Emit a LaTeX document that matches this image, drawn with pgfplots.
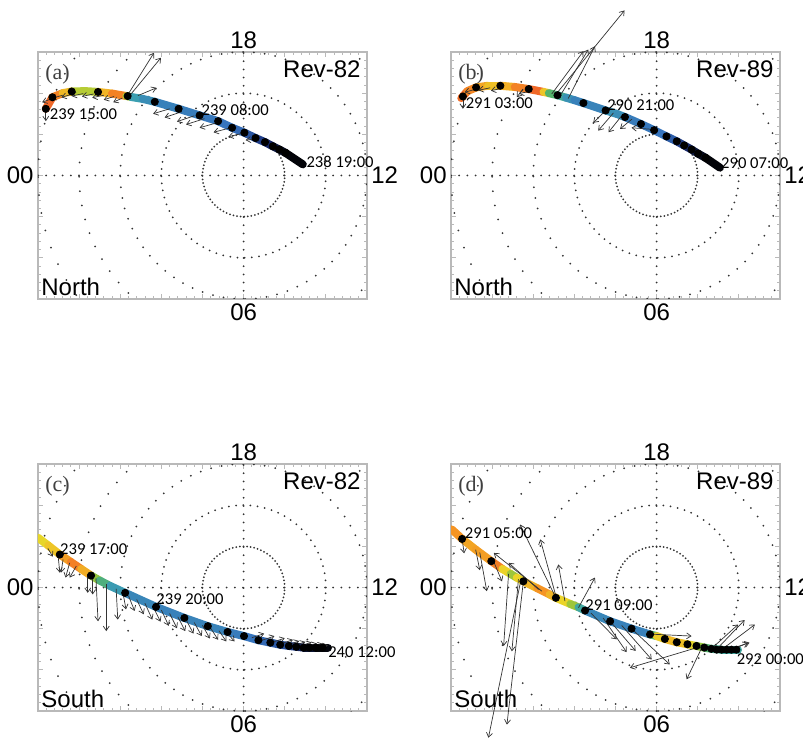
\documentclass[border=0pt]{standalone}
\usepackage{fontspec}
\setmainfont{Liberation Sans}
\newfontfamily\carlito{Carlito}
\newfontfamily\tms{Liberation Serif}
\usepackage{pgfplots}
\pgfplotsset{compat=1.18}
\usetikzlibrary{arrows.meta}

\pgfplotsset{
  colormap={idl}{rgb255=(0,0,0) rgb255=(25,45,120) rgb255=(55,115,190) rgb255=(60,165,175) rgb255=(95,185,75) rgb255=(235,215,40) rgb255=(245,145,35) rgb255=(235,70,45)},
  panel/.style={scale only axis,width=164.5pt,height=123.5pt,xmin=-5,xmax=3,ymin=-3,ymax=3,anchor=south west},
  box/.style={panel,xtick={-5,...,3},ytick={-3,...,3},minor tick num=4,
    xticklabels={},yticklabels={},tick align=inside,
    major tick length=2.4pt,minor tick length=1.4pt,
    axis line style={gray!55,line width=0.6pt},tick style={gray!55,line width=0.4pt},
    colormap name=idl,point meta min=0,point meta max=1},
  over/.style={panel,hide axis,clip=false},
  track/.style={mesh,point meta=explicit,line width=4pt,line cap=round},
  wind/.style={quiver={u=\thisrow{u},v=\thisrow{v}},-{Straight Barb[length=2.2pt,width=3pt]},gray!40!black,line width=0.35pt},
  dots/.style={only marks,mark=*,mark size=1.8pt,black},
}
\tikzset{
  ring/.style={black!80,line width=1pt,line cap=round,dash pattern=on 0pt off #1},
  stamp/.style={font=\carlito\fontsize{8.3}{9}\selectfont,anchor=west,inner sep=0pt},
  big/.style={font=\fontsize{12}{14}\selectfont,inner sep=0pt},
}
\newcommand{\polargrid}{%
  \draw[ring=1.8pt] (axis cs:0,0) circle[radius=1];
  \draw[ring=3.6pt] (axis cs:0,0) circle[radius=2];
  \draw[ring=5.4pt] (axis cs:0,0) circle[radius=3];
  \draw[ring=7.2pt] (axis cs:0,0) circle[radius=4];
  \draw[ring=9pt] (axis cs:0,0) circle[radius=5];
  \draw[ring=4.1pt] (axis cs:-5,0) -- (axis cs:3,0);
  \draw[ring=4.1pt] (axis cs:0,-3) -- (axis cs:0,3);
}
\newcommand{\decor}[3]{%
  \node[big,anchor=south,yshift=1.5pt] at (axis cs:0,3) {18};
  \node[big,anchor=north,yshift=-2pt] at (axis cs:0,-3) {06};
  \node[big,anchor=east,xshift=-2pt] at (axis cs:-5,0) {00};
  \node[big,anchor=west,xshift=2pt] at (axis cs:3,0) {12};
  \node[font=\tms\fontsize{11}{12}\selectfont,text=black!75,anchor=west,inner sep=0pt,xshift=3.5pt,yshift=-11pt] at (rel axis cs:0,1) {#1};
  \node[big,anchor=north east,xshift=-3pt,yshift=-4pt] at (rel axis cs:1,1) {#2};
  \node[big,anchor=base west,xshift=1.5pt,yshift=1.6pt] at (rel axis cs:0,0) {#3};
}

\begin{document}
\begin{tikzpicture}
\path[use as bounding box] (0,0) rectangle (401.5pt,369.5pt);

% (a) north, Rev-82
\begin{axis}[box,at={(19pt,220pt)}]
\polargrid
\addplot[track] table[meta=c] {
x y c
-4.81 1.62 0.95
-4.65 1.90 0.92
-4.40 2.00 0.85
-4.18 2.04 0.70
-3.85 2.05 0.62
-3.54 2.03 0.70
-3.20 1.99 0.87
-2.85 1.93 0.90
-2.75 1.91 0.42
-2.45 1.86 0.40
-2.16 1.79 0.32
-1.58 1.62 0.33
-1.07 1.46 0.30
-0.62 1.32 0.30
-0.28 1.16 0.28
0.02 1.04 0.25
0.29 0.91 0.20
0.52 0.81 0.15
0.71 0.71 0.10
0.87 0.63 0.05
1.02 0.55 0.02
1.44 0.27 0.00
};
\end{axis}
\begin{axis}[over,at={(19pt,220pt)}]
\addplot[wind] table {
x y u v
-2.81 1.97 0.63 1.01
-2.77 1.94 0.76 0.92
-2.57 1.94 0.45 0.19
-4.81 1.62 0.00 -0.30
-4.62 1.88 -0.28 -0.10
-4.40 1.95 -0.28 -0.08
-4.15 1.98 -0.28 -0.08
-3.90 1.99 -0.28 -0.06
-3.65 1.98 -0.28 -0.06
-3.40 1.95 -0.28 -0.06
-3.15 1.92 -0.25 -0.08
-2.95 1.88 -0.22 -0.10
-1.80 1.62 -0.40 -0.12
-1.50 1.55 -0.42 -0.14
-1.20 1.45 -0.42 -0.14
-0.95 1.38 -0.45 -0.14
-0.65 1.28 -0.42 -0.12
-0.35 1.15 -0.38 -0.10
-0.05 1.02 -0.32 -0.08
0.25 0.88 -0.20 -0.02
};
\addplot[dots] table {
x y
-4.81 1.62
-4.65 1.90
-4.18 2.04
-3.54 2.03
-2.82 1.93
-2.16 1.79
-1.58 1.62
-1.07 1.46
-0.62 1.32
-0.28 1.16
0.02 1.04
0.29 0.91
0.52 0.81
0.71 0.71
0.87 0.63
1.02 0.55
};
\node[stamp] at (axis cs:-4.72,1.50) {239 15:00};
\node[stamp] at (axis cs:-1.03,1.60) {239 08:00};
\node[stamp] at (axis cs:1.52,0.32) {238 19:00};
\decor{(a)}{Rev-82}{North}
\end{axis}

% (b) north, Rev-89
\begin{axis}[box,at={(225.5pt,220pt)}]
\polargrid
\addplot[track] table[meta=c] {
x y c
-4.75 1.88 0.95
-4.60 2.05 0.90
-4.39 2.14 0.85
-4.10 2.18 0.78
-3.80 2.18 0.74
-3.45 2.15 0.85
-3.11 2.10 0.92
-2.75 2.03 0.95
-2.62 2.00 0.55
-2.41 1.95 0.50
-2.20 1.89 0.42
-2.00 1.83 0.33
-1.78 1.76 0.32
-1.24 1.58 0.34
-0.95 1.49 0.40
-0.77 1.42 0.32
-0.38 1.25 0.30
-0.06 1.10 0.30
0.24 0.95 0.28
0.49 0.83 0.20
0.67 0.73 0.15
0.85 0.63 0.10
1.01 0.53 0.05
1.19 0.43 0.02
1.54 0.19 0.00
};
\end{axis}
\begin{axis}[over,at={(225.5pt,220pt)}]
\addplot[wind] table {
x y u v
-2.45 1.97 1.67 2.04
-2.55 1.98 0.77 1.04
-2.35 1.93 0.69 1.13
-2.15 1.87 0.65 1.27
-4.71 1.92 0.00 -0.30
-4.39 2.10 -0.28 -0.08
-4.05 2.13 -0.28 -0.06
-3.75 2.12 -0.28 -0.06
-3.25 2.10 -0.15 -0.20
-3.10 2.04 -0.25 -0.05
-1.24 1.58 -0.30 -0.30
-1.05 1.52 -0.37 -0.43
-0.85 1.45 -0.32 -0.40
-0.60 1.37 -0.29 -0.24
-0.10 1.12 -0.51 0.04
};
\addplot[dots] table {
x y
-4.71 1.92
-4.39 2.14
-3.80 2.18
-3.11 2.10
-2.41 1.95
-1.78 1.76
-1.24 1.58
-0.77 1.42
-0.38 1.25
-0.06 1.10
0.24 0.95
0.49 0.83
0.67 0.73
0.85 0.63
1.01 0.53
1.19 0.43
};
\node[stamp] at (axis cs:-4.65,1.76) {291 03:00};
\node[stamp] at (axis cs:-1.21,1.70) {290 21:00};
\node[stamp] at (axis cs:1.56,0.31) {290 07:00};
\decor{(b)}{Rev-89}{North}
\end{axis}

% (c) south, Rev-82
\begin{axis}[box,at={(19pt,14pt)}]
\polargrid
\addplot[track] table[meta=c] {
x y c
-5.00 1.21 0.70
-4.75 1.02 0.72
-4.47 0.80 0.78
-4.20 0.62 0.88
-3.95 0.45 0.90
-3.71 0.29 0.70
-3.50 0.17 0.55
-3.25 0.04 0.45
-2.88 -0.13 0.35
-2.13 -0.47 0.33
-1.44 -0.74 0.32
-0.87 -0.94 0.34
-0.39 -1.08 0.32
0.01 -1.18 0.30
0.36 -1.28 0.28
0.65 -1.34 0.25
0.89 -1.39 0.22
1.10 -1.42 0.20
1.28 -1.44 0.15
1.46 -1.46 0.08
1.76 -1.46 0.03
2.05 -1.46 0.00
};
\end{axis}
\begin{axis}[over,at={(19pt,14pt)}]
\addplot[wind] table {
x y u v
-4.76 0.95 0.12 -0.20
-4.51 0.76 0.04 -0.40
-4.39 0.68 -0.05 -0.32
-4.23 0.60 -0.10 -0.36
-4.07 0.52 -0.16 -0.28
-3.79 0.33 0.00 -0.46
-3.67 0.27 0.00 -0.44
-3.59 0.22 0.05 -1.04
-3.34 0.09 0.00 -1.15
-3.10 -0.03 0.04 -0.75
-2.94 -0.10 0.08 -0.43
-2.80 -0.20 0.15 -0.37
-2.60 -0.29 0.17 -0.36
-2.40 -0.38 0.18 -0.40
-2.20 -0.47 0.18 -0.36
-2.00 -0.55 0.18 -0.38
-1.80 -0.63 0.18 -0.36
-1.60 -0.71 0.18 -0.35
-1.40 -0.78 0.18 -0.34
-1.20 -0.85 0.18 -0.33
-1.00 -0.92 0.18 -0.32
-0.80 -0.99 0.18 -0.28
-0.60 -1.05 0.18 -0.26
-0.40 -1.11 0.18 -0.20
0.20 -1.22 0.30 0.10
0.45 -1.28 0.30 0.10
0.70 -1.33 0.30 0.10
0.90 -1.37 0.30 0.10
1.05 -1.40 0.30 0.10
1.20 -1.42 0.30 0.10
1.35 -1.43 0.30 0.10
1.50 -1.44 0.28 0.08
1.65 -1.45 0.28 0.08
1.80 -1.45 0.25 0.05
};
\addplot[dots] table {
x y
-4.47 0.80
-3.71 0.29
-2.88 -0.13
-2.13 -0.47
-1.44 -0.74
-0.87 -0.94
-0.39 -1.08
0.01 -1.18
0.36 -1.28
0.65 -1.34
0.89 -1.39
1.10 -1.42
1.28 -1.44
1.46 -1.46
1.60 -1.46
1.76 -1.46
1.92 -1.46
};
\node[stamp] at (axis cs:-4.47,0.92) {239 17:00};
\node[stamp] at (axis cs:-2.13,-0.29) {239 20:00};
\node[stamp] at (axis cs:2.05,-1.57) {240 12:00};
\decor{(c)}{Rev-82}{South}
\end{axis}

% (d) south, Rev-89
\begin{axis}[box,at={(225.5pt,14pt)}]
\polargrid
\addplot[track] table[meta=c] {
x y c
-4.98 1.41 0.85
-4.73 1.18 0.85
-4.40 0.92 0.78
-4.02 0.64 0.88
-3.75 0.45 0.90
-3.55 0.33 0.55
-3.40 0.24 0.72
-3.24 0.15 0.72
-2.90 -0.02 0.85
-2.60 -0.17 0.85
-2.45 -0.25 0.72
-2.10 -0.40 0.72
-1.90 -0.48 0.55
-1.74 -0.56 0.35
-1.13 -0.82 0.33
-0.61 -1.00 0.32
-0.16 -1.14 0.33
0.00 -1.18 0.72
0.20 -1.25 0.75
0.49 -1.33 0.80
0.75 -1.38 0.72
0.97 -1.42 0.70
1.16 -1.46 0.55
1.33 -1.49 0.50
1.58 -1.51 0.45
1.98 -1.51 0.45
};
\end{axis}
\begin{axis}[over,at={(225.5pt,14pt)}]
\addplot[wind] table {
x y u v
-4.73 1.18 0.05 -0.35
-4.40 0.92 0.10 -0.50
-4.30 0.85 0.17 -0.94
-3.95 0.60 0.19 -0.45
-3.60 0.33 -0.12 -1.75
-3.36 0.20 -0.16 -1.75
-3.24 0.15 -0.40 -3.48
-3.30 0.18 -0.79 -3.83
-2.79 -0.09 -1.17 0.93
-2.87 -0.05 -0.73 0.65
-2.47 -0.21 -0.85 1.74
-2.44 -0.24 -0.39 1.41
-2.23 -0.33 -0.16 0.89
-1.90 -0.49 0.40 0.73
-1.60 -0.62 0.63 -0.64
-1.30 -0.74 0.57 -0.83
-1.13 -0.82 0.62 -0.72
-0.85 -0.92 0.73 -0.83
-0.61 -1.00 0.93 -0.87
1.05 -1.44 -1.70 -0.51
1.09 -1.48 -0.36 -0.75
-0.20 -1.13 1.05 -0.05
1.33 -1.49 0.65 0.59
1.46 -1.50 0.68 0.71
1.58 -1.51 0.81 0.61
1.74 -1.51 0.52 0.17
1.85 -1.51 0.37 0.17
};
\addplot[dots] table {
x y
-4.73 1.18
-4.02 0.64
-3.24 0.15
-2.45 -0.25
-1.74 -0.56
-1.13 -0.82
-0.61 -1.00
-0.16 -1.14
0.20 -1.25
0.49 -1.33
0.75 -1.38
0.97 -1.42
1.16 -1.46
1.33 -1.49
1.46 -1.51
1.58 -1.51
1.70 -1.51
1.82 -1.51
1.94 -1.51
};
\node[stamp] at (axis cs:-4.67,1.33) {291 05:00};
\node[stamp] at (axis cs:-1.74,-0.44) {291 09:00};
\node[stamp] at (axis cs:1.94,-1.73) {292 00:00};
\decor{(d)}{Rev-89}{South}
\end{axis}
\end{tikzpicture}
\end{document}
